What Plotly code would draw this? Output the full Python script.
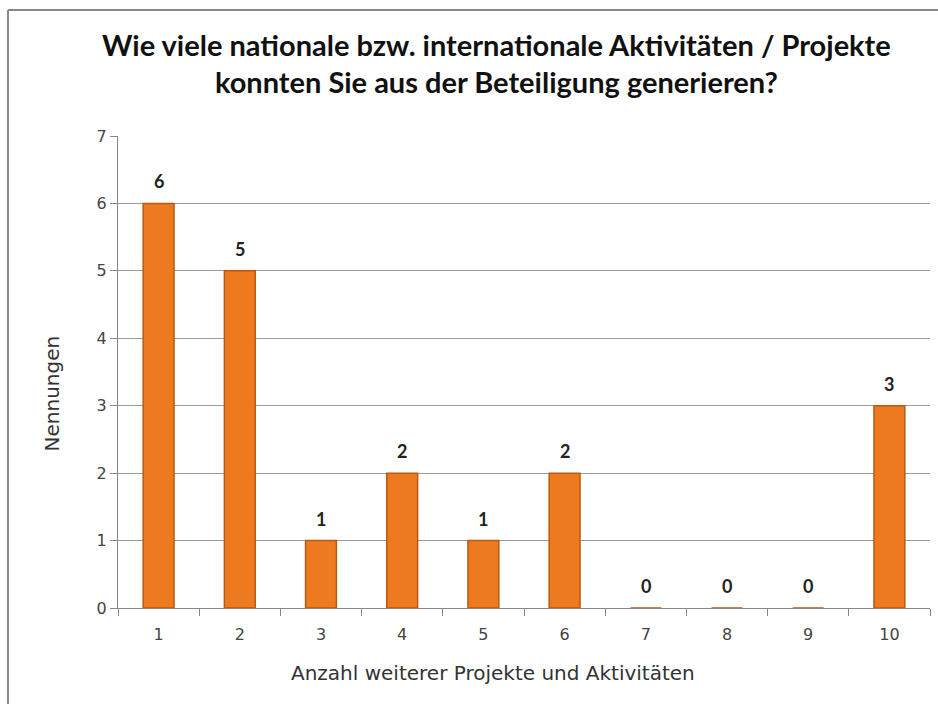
import plotly.graph_objects as go

# -----------------------------------------------------
# Data
# -----------------------------------------------------

categories = ["1", "2", "3", "4", "5", "6", "7", "8", "9", "10"]
nennungen = [6, 5, 1, 2, 1, 2, 0, 0, 0, 3]
y_ticks = [0, 1, 2, 3, 4, 5, 6, 7]

title_text = (
    "Wie viele nationale bzw. internationale Aktivitäten / Projekte<br>"
    "konnten Sie aus der Beteiligung generieren?"
)
x_title = "Anzahl weiterer Projekte und Aktivitäten"
y_title = "Nennungen"

# -----------------------------------------------------
# Figure
# -----------------------------------------------------

fig = go.Figure()

fig.add_trace(
    go.Bar(
        x=categories,
        y=nennungen,
        marker=dict(
            color="#EE7A1F",
            line=dict(color="#B95A12", width=1.5),
        ),
        width=0.38,
        hoverinfo="skip",
    )
)

# value labels above bars (category index positions)
for i, val in enumerate(nennungen):
    fig.add_annotation(
        x=i,
        y=val,
        text=str(val),
        showarrow=False,
        yanchor="middle",
        yshift=22,
        font=dict(family="Lato", size=18, color="#222222", weight="bold"),
    )

# axis titles (placed like the original, slightly off-centre)
fig.add_annotation(
    xref="paper", yref="paper",
    x=0.462, y=-0.138,
    text=x_title,
    showarrow=False,
    xanchor="center", yanchor="middle",
    font=dict(family="DejaVu Sans", size=20, color="#333333"),
)
fig.add_annotation(
    xref="paper", yref="paper",
    x=-0.081, y=0.455,
    text=y_title,
    textangle=-90,
    showarrow=False,
    xanchor="center", yanchor="middle",
    font=dict(family="DejaVu Sans", size=20, color="#333333"),
)

fig.update_layout(
    width=938,
    height=704,
    paper_bgcolor="white",
    plot_bgcolor="white",
    showlegend=False,
    margin=dict(l=118, r=8, t=136, b=96),
    font=dict(family="DejaVu Sans", color="#444444"),
    title=dict(
        text=title_text,
        x=0.466,
        xanchor="center",
        xref="paper",
        y=0.921,
        yanchor="top",
        font=dict(family="Lato", size=29, color="#111111", weight="bold"),
    ),
    shapes=[
        dict(
            type="line", xref="paper", yref="paper",
            x0=-0.1355, x1=-0.1355, y0=-0.22, y1=1.267,
            line=dict(color="#888888", width=2),
        ),
        dict(
            type="line", xref="paper", yref="paper",
            x0=-0.1355, x1=1.02, y0=1.267, y1=1.267,
            line=dict(color="#888888", width=2),
        ),
    ],
)

fig.update_xaxes(
    type="category",
    range=[-0.5, len(categories) - 0.5],
    tickson="boundaries",
    ticks="outside",
    ticklen=7,
    tickcolor="#888888",
    showline=True,
    linecolor="#888888",
    showgrid=False,
    ticklabelstandoff=12,
    tickfont=dict(family="DejaVu Sans", size=16, color="#444444"),
)

fig.update_yaxes(
    range=[0, 7],
    tickvals=y_ticks,
    ticks="outside",
    ticklen=7,
    tickcolor="#888888",
    showline=True,
    linecolor="#888888",
    showgrid=True,
    gridcolor="#9a9a9a",
    gridwidth=1,
    zeroline=False,
    tickfont=dict(family="DejaVu Sans", size=16, color="#444444"),
)

fig.write_html(
    "out.html",
    config={"displayModeBar": False},
    post_script="document.body.style.margin='0';",
)
